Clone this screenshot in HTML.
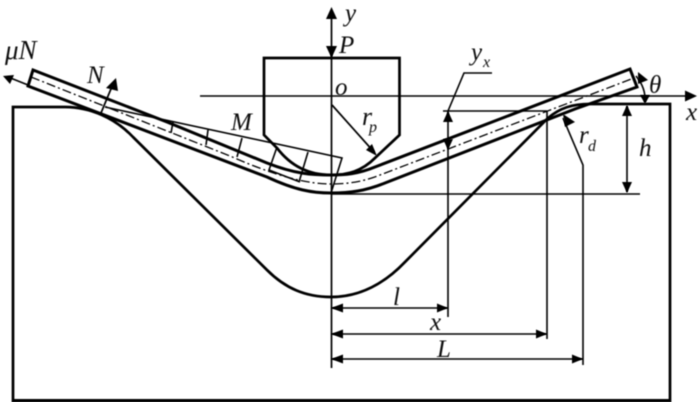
<!DOCTYPE html>
<html><head><meta charset="utf-8"><style>
html,body{margin:0;padding:0;background:#fff;width:700px;height:402px;overflow:hidden}
svg{display:block}
text{font-family:"Liberation Serif",serif;font-style:italic;fill:#111}
</style></head><body>
<svg width="700" height="402" viewBox="0 0 700 402" xmlns="http://www.w3.org/2000/svg">
<defs><filter id="b" x="-2%" y="-2%" width="104%" height="104%"><feGaussianBlur stdDeviation="0.4"/></filter></defs>
<g filter="url(#b)" fill="none" stroke="#000" stroke-linejoin="miter">
<!-- die -->
<path d="M65 107H13V401H670V104H590C572 104 560 108 548 118L405 262C385 283 360 297 331 297C305 297 285 288 267 270L133 137C115 118 90 107 65 107" stroke-width="2.7"/>
<line x1="12" y1="400.5" x2="670" y2="400.5" stroke-width="3"/>
<!-- punch -->
<path d="M331.5 58H264V135L277 148C290 165 308 175 331 175C348 175 362 171 375 158L399.5 135V58Z" stroke-width="2.7"/>
<!-- sheet -->
<path d="M28 86L33 70L167 122L267 163C295 174 312 175 331 175C345 175 358 174 375 167L630 69L637 87L575 109C540 122 500 138 385 183C365 191 350 193 331 193C312 193 295 190 267 177Z" fill="none" stroke-width="3"/>
<path d="M31 77L230 156C280 178 310 184 331 184C350 184 365 181 380 175L634 78" stroke-width="1.3" stroke-dasharray="9 3 2 3"/>
<!-- axes -->
<line x1="331.5" y1="15" x2="331.5" y2="368" stroke-width="1.7"/>
<line x1="200" y1="96" x2="692" y2="96" stroke-width="1.6"/>
<!-- moment diagram -->
<path d="M105 107L342 158L331 193M173 122L171 133M208 130L206 145M242 138L237 157M277 147L269 170L300 182M308 152L299 182" stroke-width="1.6"/>
<!-- force lines -->
<path d="M101 113L113 84M28 85L8 77M332 105L374 152" stroke-width="1.7"/>
<!-- dimension lines -->
<path d="M492 73H464L448 111M443 111H547M448 111V317M547 111V339M563 118L583 165V365M331 194H640M627 106V192M331 308H448M331 334H547M331 359H583" stroke-width="1.6"/>
<path d="M636 76Q646 88 645 102" stroke-width="1.6"/>
</g>
<g filter="url(#b)" fill="#000" stroke="none">
<polygon points="331.5,7 326,19 337,19"/>
<polygon points="331.5,58 326,46 337,46"/>
<polygon points="697,96 685,90.5 685,101.5"/>
<polygon points="3,76 14,75 10,84"/>
<polygon points="116,78 106,88 118,91"/>
<polygon points="377,156 366,150 372,144"/>
<polygon points="448,111 443,122 453,122"/>
<polygon points="448,150 443,139 453,139"/>
<polygon points="563,114 575,122 565,127"/>
<polygon points="627,105 622,116 632,116"/>
<polygon points="627,193 622,182 632,182"/>
<polygon points="638,72 648,80 638,84"/>
<polygon points="645,104 640,95 650,95"/>
<polygon points="331,308 343,303.5 343,312.5"/>
<polygon points="448,308 437,303.5 437,312.5"/>
<polygon points="331,334 343,329.5 343,338.5"/>
<polygon points="547,334 536,329.5 536,338.5"/>
<polygon points="331,359 343,354.5 343,363.5"/>
<polygon points="583,359 572,354.5 572,363.5"/>
</g>
<g filter="url(#b)">
<text x="345" y="21" font-size="25">y</text>
<text x="339" y="53" font-size="25">P</text>
<text x="335" y="95" font-size="25">o</text>
<text x="362" y="125" font-size="26">r</text>
<text x="369" y="132" font-size="16">p</text>
<text x="231" y="130" font-size="25">M</text>
<text x="87" y="83" font-size="25">N</text>
<text x="5" y="59" font-size="27" style="font-family:'Liberation Serif','DejaVu Serif',serif">μN</text>
<text x="471" y="60" font-size="25">y</text>
<text x="483" y="67" font-size="16">x</text>
<text x="579" y="143" font-size="25">r</text>
<text x="588" y="151" font-size="16">d</text>
<text x="639" y="156" font-size="25">h</text>
<text x="649" y="93" font-size="25">θ</text>
<text x="686" y="120" font-size="25">x</text>
<text x="393" y="305" font-size="25">l</text>
<text x="430" y="330" font-size="25">x</text>
<text x="437" y="357" font-size="25">L</text>
</g>
</svg>
</body></html>
